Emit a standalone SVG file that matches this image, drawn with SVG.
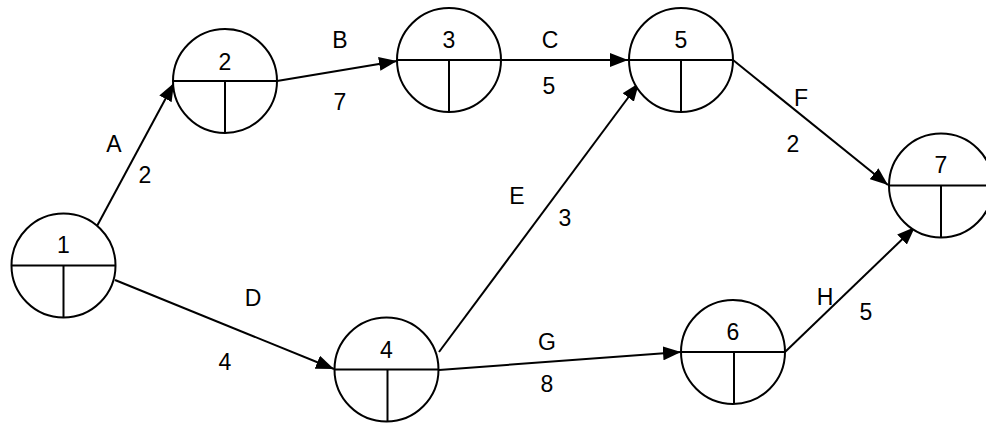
<svg xmlns="http://www.w3.org/2000/svg" width="986" height="423" viewBox="0 0 986 423">
<style>
.node circle{fill:#fff;stroke:#000;stroke-width:2}
.node line{stroke:#000;stroke-width:2}
.num{font-family:"Liberation Sans",Arial,sans-serif;font-size:23px;text-anchor:middle;fill:#000}
.edge{stroke:#000;stroke-width:2;fill:none;marker-end:url(#arr)}
.lbl{font-family:"Liberation Sans",Arial,sans-serif;font-size:23px;text-anchor:middle;fill:#000}
</style>
<defs>
<marker id="arr" markerUnits="userSpaceOnUse" markerWidth="18" markerHeight="14" viewBox="0 0 18 14" refX="18" refY="7" orient="auto">
<path d="M0,0 L18,7 L0,14 Z" fill="#000"/>
</marker>
</defs>
<g id="connectors">
<line class="edge" x1="97" y1="226" x2="174" y2="83"/>
<line class="edge" x1="277" y1="81" x2="397" y2="61"/>
<line class="edge" x1="501" y1="60" x2="628" y2="60"/>
<line class="edge" x1="439" y1="352" x2="639" y2="83"/>
<line class="edge" x1="733" y1="60" x2="888" y2="185"/>
<line class="edge" x1="115" y1="280" x2="334" y2="369"/>
<line class="edge" x1="439" y1="370" x2="681" y2="352"/>
<line class="edge" x1="785" y1="352" x2="915" y2="227"/>
<text class="lbl" x="114" y="152">A</text>
<text class="lbl" x="145" y="183">2</text>
<text class="lbl" x="340" y="48">B</text>
<text class="lbl" x="340" y="110">7</text>
<text class="lbl" x="550" y="48">C</text>
<text class="lbl" x="549" y="94">5</text>
<text class="lbl" x="801" y="106">F</text>
<text class="lbl" x="793" y="152">2</text>
<text class="lbl" x="517" y="204">E</text>
<text class="lbl" x="565" y="226">3</text>
<text class="lbl" x="253" y="306">D</text>
<text class="lbl" x="225" y="370">4</text>
<text class="lbl" x="547" y="350">G</text>
<text class="lbl" x="547" y="392">8</text>
<text class="lbl" x="825" y="305">H</text>
<text class="lbl" x="866" y="320">5</text>
</g>
<g id="node1" class="node"><circle cx="63.5" cy="265.5" r="52"/><line x1="11.5" y1="265.5" x2="115.5" y2="265.5"/><line x1="63.5" y1="265.5" x2="63.5" y2="317.5"/><text class="num" x="63.5" y="253">1</text></g>
<g id="node2" class="node"><circle cx="225" cy="81" r="52"/><line x1="173" y1="81" x2="277" y2="81"/><line x1="225" y1="81" x2="225" y2="133"/><text class="num" x="225" y="70">2</text></g>
<g id="node3" class="node"><circle cx="449" cy="60" r="52"/><line x1="397" y1="60" x2="501" y2="60"/><line x1="449" y1="60" x2="449" y2="112"/><text class="num" x="449" y="48">3</text></g>
<g id="node5" class="node"><circle cx="681" cy="60" r="52"/><line x1="629" y1="60" x2="733" y2="60"/><line x1="681" y1="60" x2="681" y2="112"/><text class="num" x="681" y="48">5</text></g>
<g id="node7" class="node"><circle cx="941" cy="185.5" r="52"/><line x1="889" y1="185.5" x2="993" y2="185.5"/><line x1="941" y1="185.5" x2="941" y2="237.5"/><text class="num" x="941" y="173">7</text></g>
<g id="node4" class="node"><circle cx="386.5" cy="369.5" r="52"/><line x1="334.5" y1="369.5" x2="438.5" y2="369.5"/><line x1="387.5" y1="369.5" x2="387.5" y2="421.5"/><text class="num" x="386.5" y="358">4</text></g>
<g id="node6" class="node"><circle cx="733" cy="352" r="52"/><line x1="681" y1="352" x2="785" y2="352"/><line x1="734" y1="352" x2="734" y2="404"/><text class="num" x="733" y="340">6</text></g>
</svg>
